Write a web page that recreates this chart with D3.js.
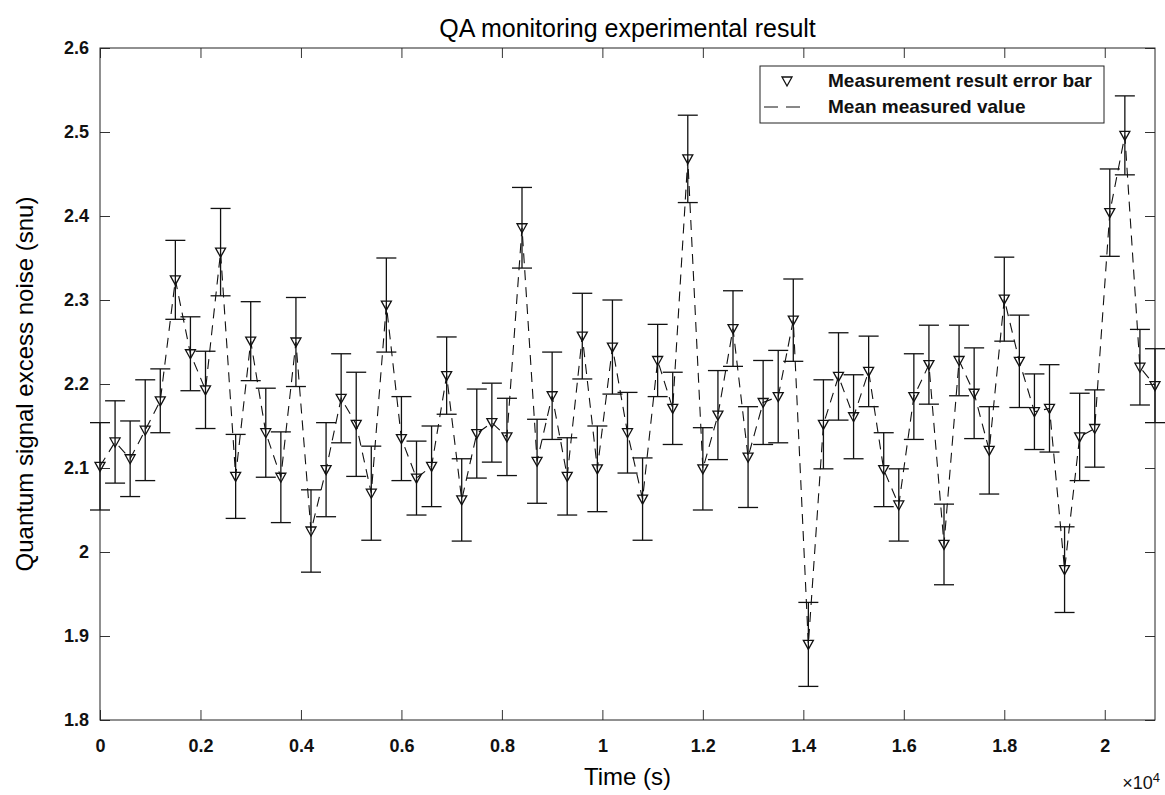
<!DOCTYPE html>
<html>
<head>
<meta charset="utf-8">
<script src="https://cdn.jsdelivr.net/npm/d3@7"></script>
<style>
  body { margin: 0; background: #fff; }
  svg { display: block; font-family: "Liberation Sans", Arial, sans-serif; }
</style>
</head>
<body>
<svg id="chart" width="1165" height="795"></svg>
<script>
// DATA
const times = [
  0, 300, 600, 900, 1200, 1500, 1800, 2100, 2400, 2700,
  3000, 3300, 3600, 3900, 4200, 4500, 4800, 5100, 5400, 5700,
  6000, 6300, 6600, 6900, 7200, 7500, 7800, 8100, 8400, 8700,
  9000, 9300, 9600, 9900, 10200, 10500, 10800, 11100, 11400, 11700,
  12000, 12300, 12600, 12900, 13200, 13500, 13800, 14100, 14400, 14700,
  15000, 15300, 15600, 15900, 16200, 16500, 16800, 17100, 17400, 17700,
  18000, 18300, 18600, 18900, 19200, 19500, 19800, 20100, 20400, 20700,
  21000
];
const meanValues = [
  2.102, 2.131, 2.111, 2.145, 2.180, 2.324, 2.236, 2.193, 2.357, 2.090,
  2.251, 2.142, 2.089, 2.250, 2.025, 2.098, 2.183, 2.152, 2.070, 2.294,
  2.135, 2.088, 2.102, 2.210, 2.062, 2.141, 2.154, 2.137, 2.386, 2.108,
  2.186, 2.090, 2.257, 2.099, 2.244, 2.142, 2.063, 2.228, 2.171, 2.468,
  2.099, 2.163, 2.266, 2.113, 2.178, 2.185, 2.276, 1.890, 2.152, 2.209,
  2.161, 2.215, 2.098, 2.056, 2.185, 2.223, 2.009, 2.228, 2.189, 2.121,
  2.301, 2.227, 2.167, 2.171, 1.979, 2.137, 2.147, 2.404, 2.496, 2.220,
  2.198
];
const errors = [
  0.052, 0.049, 0.045, 0.060, 0.038, 0.047, 0.044, 0.046, 0.052, 0.050,
  0.047, 0.053, 0.054, 0.053, 0.049, 0.056, 0.053, 0.062, 0.056, 0.056,
  0.050, 0.044, 0.048, 0.046, 0.049, 0.053, 0.047, 0.046, 0.048, 0.050,
  0.052, 0.046, 0.051, 0.051, 0.056, 0.048, 0.049, 0.043, 0.043, 0.052,
  0.049, 0.053, 0.045, 0.060, 0.050, 0.055, 0.049, 0.050, 0.053, 0.052,
  0.050, 0.042, 0.044, 0.043, 0.051, 0.047, 0.048, 0.042, 0.054, 0.052,
  0.050, 0.055, 0.045, 0.052, 0.051, 0.052, 0.046, 0.052, 0.047, 0.045,
  0.044
];
const xTicks = [0, 2000, 4000, 6000, 8000, 10000, 12000, 14000, 16000, 18000, 20000];
const yTicks = [1.8, 1.9, 2.0, 2.1, 2.2, 2.3, 2.4, 2.5, 2.6];
const legendLabels = ["Measurement result error bar", "Mean measured value"];

// CANVAS SETUP
const svg = d3.select("#chart");
const margin = { top: 48, right: 10, bottom: 75, left: 100 };
const width = +svg.attr("width") - margin.left - margin.right,
  height = +svg.attr("height") - margin.top - margin.bottom;

const g = svg.append("g").attr("transform", `translate(${margin.left},${margin.top})`);

const x = d3.scaleLinear().domain([0, 21000]).range([0, width]);
const y = d3.scaleLinear().domain([1.8, 2.6]).range([height, 0]);

const data = times.map((t, i) => ({ t: t, v: meanValues[i], e: errors[i] }));

// AXES (inward ticks on all four sides, like a boxed plot)
const xFmt = (d) => String(+(d / 1e4).toFixed(1));
const yFmt = d3.format(".2~f");
const tickFont = (sel) =>
  sel.selectAll("text")
    .attr("font-size", 18)
    .attr("font-weight", "bold")
    .attr("fill", "#111");

g.append("g")
  .attr("transform", `translate(0,${height})`)
  .call(d3.axisBottom(x).tickValues(xTicks).tickFormat(xFmt).tickSizeInner(-10).tickSizeOuter(0).tickPadding(19))
  .call((a) => a.select(".domain").remove())
  .call(tickFont);

g.append("g")
  .call(d3.axisTop(x).tickValues(xTicks).tickFormat("").tickSizeInner(-10).tickSizeOuter(0))
  .call((a) => a.select(".domain").remove());

g.append("g")
  .call(d3.axisLeft(y).tickValues(yTicks).tickFormat(yFmt).tickSizeInner(-10).tickSizeOuter(0).tickPadding(11))
  .call((a) => a.select(".domain").remove())
  .call(tickFont);

g.append("g")
  .attr("transform", `translate(${width},0)`)
  .call(d3.axisRight(y).tickValues(yTicks).tickFormat("").tickSizeInner(-10).tickSizeOuter(0))
  .call((a) => a.select(".domain").remove());

g.selectAll(".tick line").attr("stroke", "#333");

g.append("rect")
  .attr("width", width)
  .attr("height", height)
  .attr("fill", "none")
  .attr("stroke", "#222")
  .attr("stroke-width", 1);

// MEAN LINE
const line = d3.line().x((d) => x(d.t)).y((d) => y(d.v));
g.append("path")
  .datum(data)
  .attr("d", line)
  .attr("fill", "none")
  .attr("stroke", "#111")
  .attr("stroke-width", 1.1)
  .attr("stroke-dasharray", "10,7");

// ERROR BARS
const cap = 10;
const bars = g.append("g").attr("stroke", "#111").attr("stroke-width", 1.3);
bars.selectAll(".stem")
  .data(data)
  .join("line")
  .attr("x1", (d) => x(d.t))
  .attr("x2", (d) => x(d.t))
  .attr("y1", (d) => y(d.v - d.e))
  .attr("y2", (d) => y(d.v + d.e));
bars.selectAll(".capTop")
  .data(data)
  .join("line")
  .attr("x1", (d) => x(d.t) - cap)
  .attr("x2", (d) => x(d.t) + cap)
  .attr("y1", (d) => y(d.v + d.e))
  .attr("y2", (d) => y(d.v + d.e));
bars.selectAll(".capBottom")
  .data(data)
  .join("line")
  .attr("x1", (d) => x(d.t) - cap)
  .attr("x2", (d) => x(d.t) + cap)
  .attr("y1", (d) => y(d.v - d.e))
  .attr("y2", (d) => y(d.v - d.e));

// MARKERS (open downward triangles)
const tri = "M-5,-4L5,-4L0,5Z";
g.append("g")
  .selectAll("path")
  .data(data)
  .join("path")
  .attr("d", tri)
  .attr("transform", (d) => `translate(${x(d.t)},${y(d.v)})`)
  .attr("fill", "none")
  .attr("stroke", "#111")
  .attr("stroke-width", 1.3);

// TITLE AND LABELS
svg.append("text")
  .attr("x", margin.left + width / 2)
  .attr("y", 37)
  .attr("text-anchor", "middle")
  .attr("font-size", 25)
  .attr("fill", "#000")
  .text("QA monitoring experimental result");

svg.append("text")
  .attr("x", margin.left + width / 2)
  .attr("y", 785)
  .attr("text-anchor", "middle")
  .attr("font-size", 24)
  .attr("fill", "#000")
  .text("Time (s)");

svg.append("text")
  .attr("transform", `translate(33,${margin.top + height / 2}) rotate(-90)`)
  .attr("text-anchor", "middle")
  .attr("font-size", 24)
  .attr("fill", "#000")
  .text("Quantum signal excess noise (snu)");

const expo = svg.append("text")
  .attr("x", 1160)
  .attr("y", 789)
  .attr("text-anchor", "end")
  .attr("font-size", 18)
  .attr("fill", "#111");
expo.append("tspan").text("\u00d710");
expo.append("tspan").attr("dy", -7).attr("font-size", 13).text("4");

// LEGEND
const lg = svg.append("g").attr("transform", "translate(760,66)");
lg.append("rect")
  .attr("width", 344)
  .attr("height", 57)
  .attr("fill", "#fff")
  .attr("stroke", "#222")
  .attr("stroke-width", 1);
lg.append("path")
  .attr("d", tri)
  .attr("transform", "translate(27,15)")
  .attr("fill", "none")
  .attr("stroke", "#111")
  .attr("stroke-width", 1.3);
lg.append("line")
  .attr("x1", 4).attr("x2", 48)
  .attr("y1", 41).attr("y2", 41)
  .attr("stroke", "#111")
  .attr("stroke-dasharray", "14,8");
lg.selectAll(".lbl")
  .data(legendLabels)
  .join("text")
  .attr("x", 68)
  .attr("y", (d, i) => 21 + i * 26)
  .attr("font-size", 19)
  .attr("font-weight", "bold")
  .attr("fill", "#111")
  .text((d) => d);
</script>
</body>
</html>
